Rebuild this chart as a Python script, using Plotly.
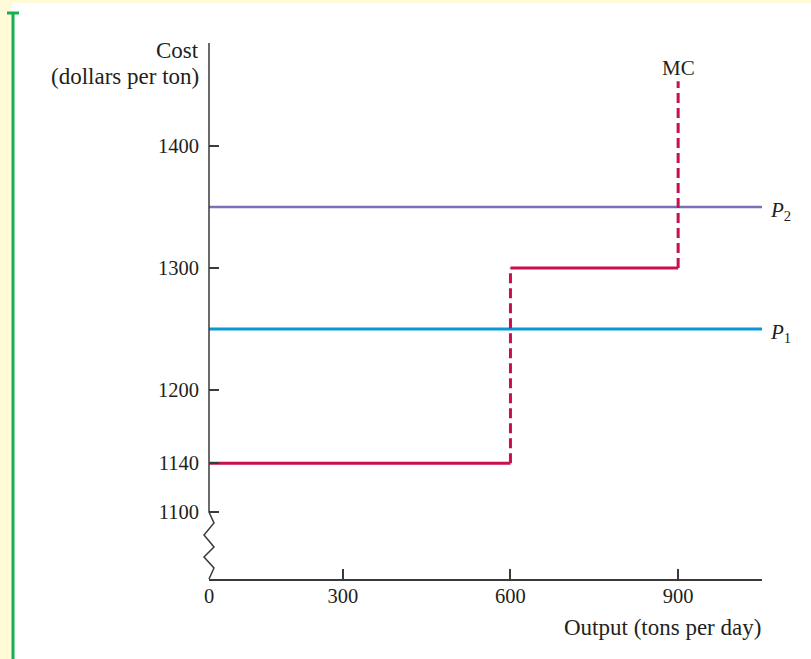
import plotly.graph_objects as go

# ---- data ----
MC_X = [0, 600, 900]          # step break points (tons per day)
MC_LEVELS = [1140, 1300]      # MC level on each step
MC_TOP = 1453                 # top of final vertical segment
P1 = 1250
P2 = 1350
X_TICKS = [300, 600, 900]
Y_TICKS = [1100, 1140, 1200, 1300, 1400]
X_MAX = 1050

# ---- layout geometry ----
W, H = 811, 659
L, R, T, B = 209, 49, 43, 80
PW, PH = W - L - R, H - T - B
X_START = 60.7                # axis origin labelled "0" (axis is not to scale near 0)
Y_RANGE = [1045.1, 1484.4]

def pxx(px):
    return (px - L) / PW

def pxy(py):
    return (H - B - py) / PH

def ypaper(v):
    return (v - Y_RANGE[0]) / (Y_RANGE[1] - Y_RANGE[0])

FONT = "Liberation Serif"
TXT = "#231f20"
AX = "#3a3a3a"
MC_COL = "#C90F52"
P1_COL = "#0A97D8"
P2_COL = "#7B70B6"

fig = go.Figure()

# price lines
fig.add_trace(go.Scatter(x=[0, X_MAX], y=[P1, P1], mode="lines",
                         line=dict(color=P1_COL, width=3), hoverinfo="skip"))
fig.add_trace(go.Scatter(x=[0, X_MAX], y=[P2, P2], mode="lines",
                         line=dict(color=P2_COL, width=2.5), hoverinfo="skip"))

# MC: solid horizontal steps
for i, lvl in enumerate(MC_LEVELS):
    fig.add_trace(go.Scatter(x=[MC_X[i], MC_X[i + 1]], y=[lvl, lvl], mode="lines",
                             line=dict(color=MC_COL, width=3), hoverinfo="skip"))
# MC: dashed verticals
tops = MC_LEVELS[1:] + [MC_TOP]
for i, lvl in enumerate(MC_LEVELS):
    fig.add_trace(go.Scatter(x=[MC_X[i + 1], MC_X[i + 1]], y=[lvl, tops[i]], mode="lines",
                             line=dict(color=MC_COL, width=3, dash="10px,5px"),
                             hoverinfo="skip"))

shapes = []
# white panel over yellow page
shapes.append(dict(type="rect", xref="paper", yref="paper", layer="below",
                   x0=pxx(12), x1=pxx(W + 2), y0=pxy(H + 2), y1=pxy(3),
                   fillcolor="white", line=dict(width=0)))
# green side bar with cap
shapes.append(dict(type="line", xref="paper", yref="paper", layer="below",
                   x0=pxx(13), x1=pxx(13), y0=pxy(12), y1=pxy(H + 2),
                   line=dict(color="#14B04F", width=3)))
shapes.append(dict(type="line", xref="paper", yref="paper", layer="below",
                   x0=pxx(7), x1=pxx(19), y0=pxy(13), y1=pxy(13),
                   line=dict(color="#14B04F", width=3)))

# y axis line with zig-zag break below 1100
y1100 = ypaper(Y_TICKS[0])
dx = 5 / PW
zig_py = [523, 535, 547, 557, 568]
pts = [(0, 1), (0, y1100)]
for k, py in enumerate(zig_py):
    pts.append((dx if k % 2 == 0 else -dx, pxy(py)))
pts.append((0, 0))
path = "M " + " L ".join(f"{x:.5f},{y:.5f}" for x, y in pts)
shapes.append(dict(type="path", xref="paper", yref="paper", path=path,
                   line=dict(color=AX, width=1.5)))
fig.update_layout(shapes=shapes)

TFONT = dict(family=FONT, size=23, color=TXT)
annotations = [
    dict(text="Cost", xref="paper", yref="paper",
         x=pxx(201), y=pxy(50), xanchor="right", yanchor="middle",
         showarrow=False, font=TFONT),
    dict(text="(dollars per ton)", xref="paper", yref="paper",
         x=pxx(201), y=pxy(76), xanchor="right", yanchor="middle",
         showarrow=False, font=TFONT),
    dict(text="Output (tons per day)", xref="paper", yref="paper",
         x=pxx(763), y=pxy(627), xanchor="right", yanchor="middle",
         showarrow=False, font=TFONT),
    dict(text="MC", x=MC_X[-1], y=MC_TOP, xref="x", yref="y",
         xanchor="center", yanchor="bottom", yshift=-1, showarrow=False,
         font=dict(family=FONT, size=21, color=TXT)),
    dict(text="<i>P</i><sub>2</sub>", x=X_MAX, y=P2, xref="x", yref="y",
         xanchor="left", yanchor="middle", xshift=6, yshift=-4, showarrow=False,
         font=dict(family=FONT, size=21, color=TXT)),
    dict(text="<i>P</i><sub>1</sub>", x=X_MAX, y=P1, xref="x", yref="y",
         xanchor="left", yanchor="middle", xshift=6, yshift=-4, showarrow=False,
         font=dict(family=FONT, size=21, color=TXT)),
]

fig.update_layout(
    width=W, height=H, autosize=False,
    margin=dict(l=L, r=R, t=T, b=B),
    paper_bgcolor="#FFFAD8", plot_bgcolor="rgba(0,0,0,0)",
    showlegend=False,
    annotations=annotations,
    xaxis=dict(range=[X_START, X_MAX],
               tickvals=[X_START] + X_TICKS,
               ticktext=["0"] + [str(v) for v in X_TICKS],
               ticks="inside", ticklen=10, tickwidth=1.5, tickcolor=AX,
               showline=True, linecolor=AX, linewidth=1.5,
               showgrid=False, zeroline=False, ticklabelstandoff=-2,
               tickfont=dict(family=FONT, size=20.5, color=TXT), fixedrange=True),
    yaxis=dict(range=Y_RANGE, tickvals=Y_TICKS,
               ticks="inside", ticklen=10, tickwidth=1.5, tickcolor=AX,
               showline=False, showgrid=False, zeroline=False,
               ticklabelstandoff=9,
               tickfont=dict(family=FONT, size=20.5, color=TXT), fixedrange=True),
)

fig.write_html("out.html", config={"displayModeBar": False},
               post_script="document.body.style.margin='0';document.body.style.padding='0';")
